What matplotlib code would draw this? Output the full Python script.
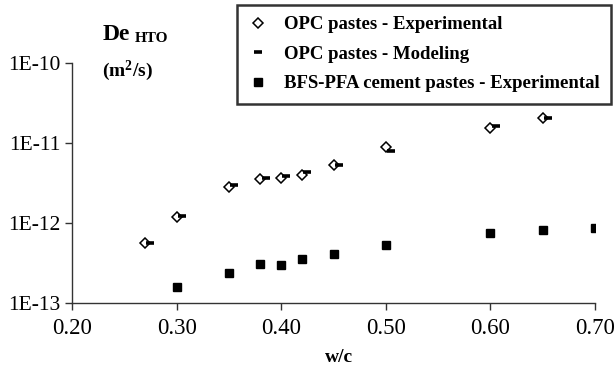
import matplotlib
matplotlib.use("Agg")
import matplotlib.pyplot as plt
from matplotlib.ticker import FixedLocator, FixedFormatter

plt.rcParams['font.family'] = ['Liberation Serif', 'DejaVu Serif']
plt.rcParams['mathtext.fontset'] = 'custom'
plt.rcParams['mathtext.rm'] = 'Liberation Serif'
plt.rcParams['mathtext.bf'] = 'Liberation Serif:bold'

# Effective HTO diffusion coefficient (m2/s) versus water/cement ratio
opc_wc = [0.27, 0.30, 0.35, 0.38, 0.40, 0.42, 0.45, 0.50, 0.60, 0.65]
opc_exp = [5.6e-13, 1.19e-12, 2.8e-12, 3.5e-12, 3.7e-12, 4.0e-12, 5.3e-12, 8.9e-12, 1.55e-11, 2.05e-11]

opc_model_wc = [0.275, 0.305, 0.355, 0.385, 0.405, 0.425, 0.455, 0.505, 0.605, 0.655]
opc_model = [5.6e-13, 1.22e-12, 3.0e-12, 3.6e-12, 3.9e-12, 4.3e-12, 5.3e-12, 8.0e-12, 1.65e-11, 2.05e-11]

bfs_wc = [0.30, 0.35, 0.38, 0.40, 0.42, 0.45, 0.50, 0.60, 0.65, 0.70]
bfs_exp = [1.6e-13, 2.4e-13, 3.1e-13, 3.0e-13, 3.5e-13, 4.1e-13, 5.3e-13, 7.4e-13, 8.1e-13, 8.6e-13]

x_ticks = [0.20, 0.30, 0.40, 0.50, 0.60, 0.70]
y_ticks = [1e-13, 1e-12, 1e-11, 1e-10]
y_tick_labels = ['1E-13', '1E-12', '1E-11', '1E-10']

fig = plt.figure(figsize=(6.15, 3.71), dpi=100)
ax = fig.add_axes([72 / 615, 1 - 303 / 371, (595 - 72) / 615, (303 - 63) / 371])

ax.plot(opc_wc, opc_exp, linestyle='none', marker='D', markersize=5.2,
        markerfacecolor='white', markeredgecolor='black', markeredgewidth=1.1,
        label='OPC pastes - Experimental', zorder=3)
ax.plot(opc_model_wc, opc_model, linestyle='none', marker='_', markersize=5.5,
        markeredgewidth=2.6, color='black', label='OPC pastes - Modeling', zorder=4)
ax.plot(bfs_wc, bfs_exp, linestyle='none', marker='s', markersize=5.4,
        color='black', label='BFS-PFA cement pastes - Experimental', zorder=3)

ax.set_yscale('log')
ax.set_xlim(0.20, 0.70)
ax.set_ylim(1e-13, 1e-10)
ax.xaxis.set_major_locator(FixedLocator(x_ticks))
ax.xaxis.set_major_formatter(FixedFormatter([f'{v:.2f}' for v in x_ticks]))
ax.yaxis.set_major_locator(FixedLocator(y_ticks))
ax.yaxis.set_major_formatter(FixedFormatter(y_tick_labels))
ax.yaxis.set_minor_locator(FixedLocator([]))

for side in ('top', 'right'):
    ax.spines[side].set_visible(False)
for side in ('left', 'bottom'):
    ax.spines[side].set_linewidth(1.0)
    ax.spines[side].set_color('#333333')
ax.tick_params(axis='both', direction='out', length=5, width=1.0, color='#333333')
ax.tick_params(axis='x', labelsize=16.5, pad=6)
ax.tick_params(axis='y', labelsize=15.5, pad=3)

# Axis titles
fig.text(103 / 615, 1 - 35 / 371, 'De', fontsize=17, fontweight='bold',
         ha='left', va='center')
fig.text(135 / 615, 1 - 39 / 371, 'HTO', fontsize=11, fontweight='bold',
         ha='left', va='center')
fig.text(102 / 615, 1 - 71 / 371, r'$\mathbf{(m^2/s)}$', fontsize=14,
         ha='left', va='center')
fig.text(339 / 615, 1 - 357 / 371, 'w/c', fontsize=14, fontweight='bold',
         ha='center', va='center')

leg = fig.legend(loc='upper left', bbox_to_anchor=(237 / 615, 1 - 5 / 371),
                 frameon=True, fancybox=False, shadow=False,
                 prop={'weight': 'bold', 'size': 13.5},
                 handlelength=1.0, handletextpad=0.9, borderpad=0.6,
                 labelspacing=0.66, borderaxespad=0.0)
leg.get_frame().set_edgecolor('black')
leg.get_frame().set_linewidth(1.8)

fig.savefig('out.png', dpi=100)
